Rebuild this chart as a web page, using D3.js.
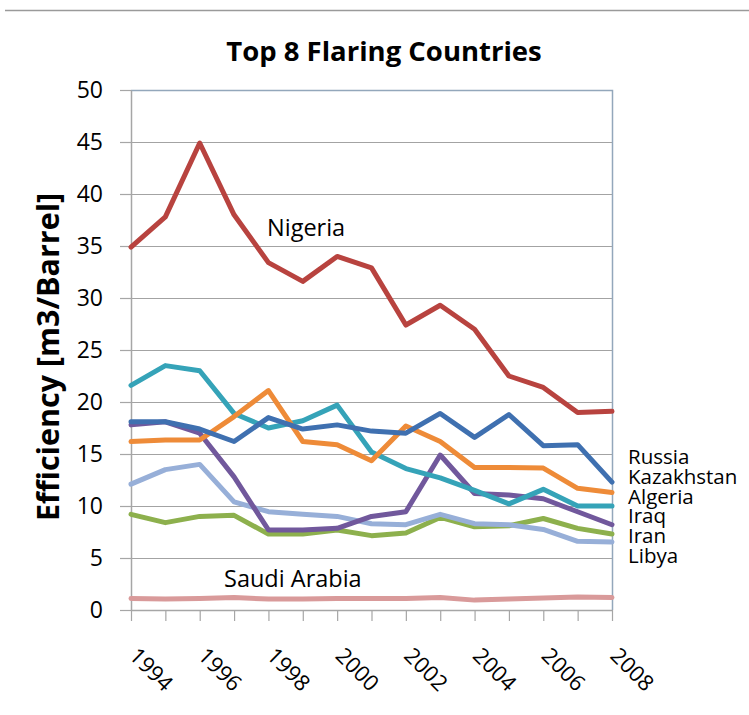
<!DOCTYPE html>
<html>
<head>
<meta charset="utf-8">
<script src="https://cdn.jsdelivr.net/npm/d3@7"></script>
<style>
  html, body { margin: 0; padding: 0; background: #ffffff; }
  svg { display: block; }
</style>
</head>
<body>
<svg id="chart" width="749" height="715"></svg>
<script>
// ---- data ----
const years = [1994, 1995, 1996, 1997, 1998, 1999, 2000, 2001, 2002, 2003, 2004, 2005, 2006, 2007, 2008];
const yearTickLabels = [1994, 1996, 1998, 2000, 2002, 2004, 2006, 2008];
const yTicks = [0, 5, 10, 15, 20, 25, 30, 35, 40, 45, 50];

const nigeria     = [34.9, 37.8, 44.9, 38.0, 33.4, 31.6, 34.0, 32.9, 27.4, 29.3, 27.0, 22.5, 21.4, 19.0, 19.1];
const russia      = [18.1, 18.1, 17.4, 16.2, 18.5, 17.4, 17.8, 17.2, 17.0, 18.9, 16.6, 18.8, 15.8, 15.9, 12.3];
const kazakhstan  = [16.2, 16.35, 16.35, 18.6, 21.1, 16.2, 15.9, 14.35, 17.7, 16.2, 13.7, 13.7, 13.65, 11.7, 11.3];
const algeria     = [21.6, 23.5, 23.0, 18.9, 17.5, 18.2, 19.7, 15.2, 13.6, 12.7, 11.5, 10.2, 11.6, 10.0, 10.0];
const iraq        = [17.8, 18.1, 17.0, 12.8, 7.7, 7.7, 7.85, 9.0, 9.45, 14.9, 11.2, 11.05, 10.7, 9.45, 8.2];
const iran        = [9.2, 8.4, 9.0, 9.1, 7.3, 7.3, 7.7, 7.15, 7.4, 8.9, 8.0, 8.1, 8.8, 7.85, 7.3];
const libya       = [12.1, 13.5, 14.0, 10.4, 9.45, 9.2, 9.0, 8.3, 8.2, 9.2, 8.3, 8.2, 7.75, 6.6, 6.55];
const saudiArabia = [1.1, 1.05, 1.1, 1.2, 1.05, 1.05, 1.1, 1.1, 1.1, 1.2, 0.95, 1.05, 1.15, 1.25, 1.2];

const seriesNames  = ["Nigeria", "Russia", "Kazakhstan", "Algeria", "Iraq", "Iran", "Libya", "Saudi Arabia"];
const seriesValues = [nigeria, russia, kazakhstan, algeria, iraq, iran, libya, saudiArabia];
const seriesColors = ["#B8433F", "#3F70B0", "#EE8B38", "#35A3B8", "#71589C", "#8DB04D", "#97AFD8", "#D99A9A"];

const rightLabels = ["Russia", "Kazakhstan", "Algeria", "Iraq", "Iran", "Libya"];

// ---- layout ----
const svg = d3.select("#chart");
const plotLeft = 131, plotRight = 612, plotTop = 90, plotBottom = 610;
const font = "'Open Sans', 'Noto Sans', sans-serif";

const x = d3.scaleLinear().domain([1994, 2008]).range([plotLeft, plotRight]);
const y = d3.scaleLinear().domain([0, 50]).range([plotBottom, plotTop]);

// top rule
svg.append("line")
  .attr("x1", 5).attr("x2", 749).attr("y1", 10.5).attr("y2", 10.5)
  .attr("stroke", "#9a9a9a").attr("stroke-width", 1.5);

// title
svg.append("text")
  .attr("x", 384).attr("y", 61)
  .attr("text-anchor", "middle")
  .attr("font-family", font).attr("font-weight", "bold")
  .attr("font-size", 27.5).attr("fill", "#000")
  .text("Top 8 Flaring Countries");

// gridlines
svg.append("g").selectAll("line")
  .data(yTicks.filter(d => d > 0 && d < 50))
  .join("line")
  .attr("x1", plotLeft).attr("x2", plotRight)
  .attr("y1", d => Math.round(y(d)) + 0.5).attr("y2", d => Math.round(y(d)) + 0.5)
  .attr("stroke", "#a3a3a3").attr("stroke-width", 1);

// plot area border (top & right)
svg.append("path")
  .attr("d", `M${plotLeft},${y(50) + 0.5}H${plotRight + 0.5}V${plotBottom}`)
  .attr("fill", "none").attr("stroke", "#93a7bb").attr("stroke-width", 1.5);

// y axis
const yAxis = d3.axisLeft(y).tickValues(yTicks).tickSize(11).tickPadding(17).tickSizeOuter(0);
const gy = svg.append("g").attr("transform", `translate(${plotLeft},0)`).call(yAxis);
gy.select(".domain").attr("stroke", "#a6a6a6").attr("stroke-width", 1.5);
gy.selectAll(".tick line").attr("stroke", "#a6a6a6").attr("stroke-width", 1.2);
gy.selectAll(".tick text")
  .attr("font-family", font).attr("font-size", 23).attr("fill", "#000");

// x axis
const xAxis = d3.axisBottom(x).tickValues(years).tickSize(11).tickSizeOuter(0).tickFormat("");
const gx = svg.append("g").attr("transform", `translate(0,${plotBottom})`).call(xAxis);
gx.select(".domain").attr("stroke", "#a6a6a6").attr("stroke-width", 1.5);
gx.selectAll(".tick line").attr("stroke", "#a6a6a6").attr("stroke-width", 1.2);

// x tick labels, rotated
svg.append("g").selectAll("text")
  .data(yearTickLabels)
  .join("text")
  .attr("transform", d => `translate(${x(d) - 3},${plotBottom + 47}) rotate(45)`)
  .attr("font-family", font).attr("font-size", 22).attr("fill", "#000")
  .text(d => d);

// y axis title
svg.append("text")
  .attr("transform", `translate(59,357) rotate(-90)`)
  .attr("text-anchor", "middle")
  .attr("font-family", font).attr("font-weight", "bold")
  .attr("font-size", 30.5).attr("fill", "#000")
  .text("Efficiency [m3/Barrel]");

// lines
const line = d3.line()
  .x((d, i) => x(years[i]))
  .y(d => y(d));

const order = [7, 5, 6, 4, 3, 2, 1, 0];
svg.append("g").selectAll("path")
  .data(order)
  .join("path")
  .attr("d", k => line(seriesValues[k]))
  .attr("fill", "none")
  .attr("stroke", k => seriesColors[k])
  .attr("stroke-width", 5)
  .attr("stroke-linejoin", "round")
  .attr("stroke-linecap", "round");

// in-chart labels
svg.append("text")
  .attr("x", 267).attr("y", 236)
  .attr("font-family", font).attr("font-size", 23.5).attr("fill", "#000")
  .text("Nigeria");
svg.append("text")
  .attr("x", 224).attr("y", 587)
  .attr("font-family", font).attr("font-size", 23.5).attr("fill", "#000")
  .text("Saudi Arabia");

// right-side labels
svg.append("g").selectAll("text")
  .data(rightLabels)
  .join("text")
  .attr("x", 628)
  .attr("y", (d, i) => 464 + i * 19.8)
  .attr("font-family", font).attr("font-size", 20.5).attr("fill", "#000")
  .text(d => d);
</script>
</body>
</html>
